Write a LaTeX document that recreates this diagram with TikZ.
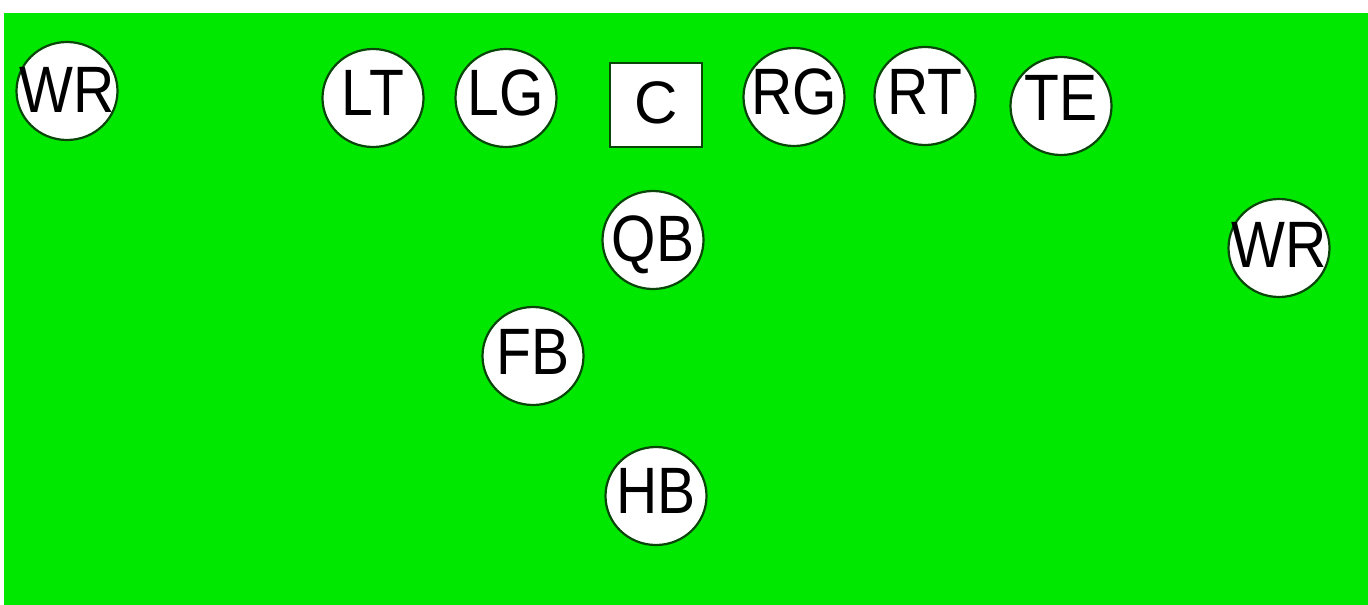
\documentclass[tikz,border=0pt]{standalone}
\usepackage{fontspec}
\setmainfont{Liberation Sans}
\usepackage{graphicx}
\usetikzlibrary{shapes.geometric}
\definecolor{field}{RGB}{0,232,0}
\definecolor{rim}{RGB}{10,70,10}
\tikzset{
  player/.style={ellipse, draw=rim, line width=2.2pt, fill=white,
    minimum width=101pt, minimum height=98pt, inner sep=0pt},
  center box/.style={rectangle, draw=rim, line width=2.4pt, fill=white,
    minimum width=92pt, minimum height=84pt, inner sep=0pt},
  tag/.style={inner sep=0pt, text height=47pt, text depth=0pt,
    font=\fontsize{65.6}{65.6}\selectfont},
}
\newcommand{\sq}[1]{\scalebox{0.87}[1]{#1}}
\begin{document}
\begin{tikzpicture}[x=1pt,y=-1pt]
\useasboundingbox (0,0) rectangle (1368,605);
\fill[white] (0,0) rectangle (1368,605);
\fill[field] (4,13) rectangle (1368,605);
% offensive line
\node[player] (WRL) at (67,91) {};
\node[tag] at ([yshift=2.5pt]WRL.center) {\sq{WR}};
\node[player] (LT) at (373,98) {};
\node[tag] at ([yshift=6.5pt]LT.center) {\sq{LT}};
\node[player] (LG) at (506,98) {};
\node[tag] at ([yshift=6.5pt]LG.center) {\sq{LG}};
\node[center box] (C) at (656,105) {};
\node[tag, text height=43pt, font=\fontsize{60}{60}\selectfont] at ([yshift=3.5pt]C.center) {C};
\node[player] (RG) at (794,97) {};
\node[tag] at ([yshift=6.5pt]RG.center) {\sq{RG}};
\node[player] (RT) at (925,96) {};
\node[tag] at ([yshift=5.5pt]RT.center) {\sq{RT}};
\node[player] (TE) at (1061,106) {};
\node[tag] at ([yshift=9pt]TE.center) {\sq{TE}};
% backfield
\node[player] (QB) at (653,240) {};
\node[tag] at ([yshift=2.5pt]QB.center) {\sq{QB}};
\node[player] (WRR) at (1279,248) {};
\node[tag] at ([yshift=4pt]WRR.center) {\sq{WR}};
\node[player] (FB) at (533,356) {};
\node[tag] at ([yshift=5pt]FB.center) {\sq{FB}};
\node[player] (HB) at (656,496) {};
\node[tag] at ([yshift=6pt]HB.center) {\sq{HB}};
\end{tikzpicture}
\end{document}
